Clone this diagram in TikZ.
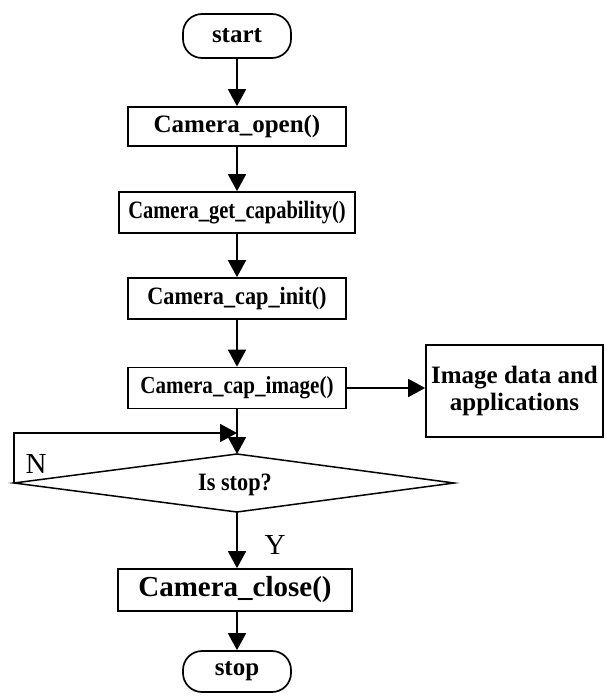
\documentclass[tikz,border=0pt]{standalone}
\usepackage{fontspec}
\setmainfont{Liberation Serif}
% narrowed faces for the longer function names
\newfontfamily\narrowA[FakeStretch=0.82]{Liberation Serif}
\newfontfamily\narrowB[FakeStretch=0.86]{Liberation Serif}
\newfontfamily\narrowC[FakeStretch=0.89]{Liberation Serif}
\usetikzlibrary{arrows.meta}
\newcommand{\txtsize}[1]{\fontsize{#1}{1.15\dimexpr#1pt\relax}\selectfont}
\begin{document}
\begin{tikzpicture}[x=1pt,y=-1pt,
  every node/.style={font=\txtsize{25}\bfseries},
  flowbox/.style={draw, line width=1.7pt, inner sep=0pt},
  terminal/.style={flowbox, rounded corners=19pt, minimum width=108pt},
  flowline/.style={line width=1.8pt, -{Triangle[length=17pt,width=18pt]}},
  plainlabel/.style={font=\txtsize{29}\mdseries}]
\useasboundingbox (0,0) rectangle (605,698);

% main column
\node[terminal, minimum height=44pt] (start) at (237,36) {start};
\node[flowbox, minimum width=218pt, minimum height=39pt] (open) at (237,126.5) {Camera\_open()};
\node[flowbox, minimum width=236pt, minimum height=41pt, font=\narrowA\txtsize{25}\bfseries] (getcap) at (237,212.5) {Camera\_get\_capability()};
\node[flowbox, minimum width=218pt, minimum height=41pt, font=\narrowC\txtsize{25}\bfseries] (capinit) at (237,298.5) {Camera\_cap\_init()};
\node[flowbox, minimum width=218pt, minimum height=41pt, font=\narrowB\txtsize{24.5}\bfseries] (capimage) at (237,388) {Camera\_cap\_image()};
\node[flowbox, minimum width=177pt, minimum height=92pt, align=center, font=\fontsize{25}{27}\selectfont\bfseries] (imgdata) at (514.5,391) {Image data and\\applications};

% decision
\coordinate (dtop) at (237,454);
\coordinate (dleft) at (14,483);
\coordinate (dright) at (454,483);
\coordinate (dbot) at (237,512);
\draw[line width=1.5pt] (dleft) -- (dtop) -- (dright) -- (dbot) -- cycle;
\node[font=\narrowC\txtsize{25}\bfseries] (dec) at (235,485) {Is stop?};

\node[flowbox, minimum width=234pt, minimum height=42pt, font=\txtsize{29}\bfseries] (close) at (235,590) {Camera\_close()};
\node[terminal, minimum height=41pt] (stop) at (237,671.5) {stop};

% connectors
\draw[flowline] (start) -- (open);
\draw[flowline] (open) -- (getcap);
\draw[flowline] (getcap) -- (capinit);
\draw[flowline] (capinit) -- (capimage);
\draw[flowline] (capimage) -- (imgdata.west |- capimage);
\draw[flowline] (capimage) -- (dtop);
\coordinate (loopcorner) at (14,433);
\coordinate (loopend) at (237,433);
\draw[flowline] (dleft) -- (loopcorner) -- (loopend);
\draw[flowline] (dbot) -- (dbot |- close.north);
\draw[flowline] (close.south -| stop) -- (stop);

% branch labels
\node[plainlabel] (nlabel) at (36,464) {N};
\node[plainlabel] (ylabel) at (275,545) {Y};
\end{tikzpicture}
\end{document}
